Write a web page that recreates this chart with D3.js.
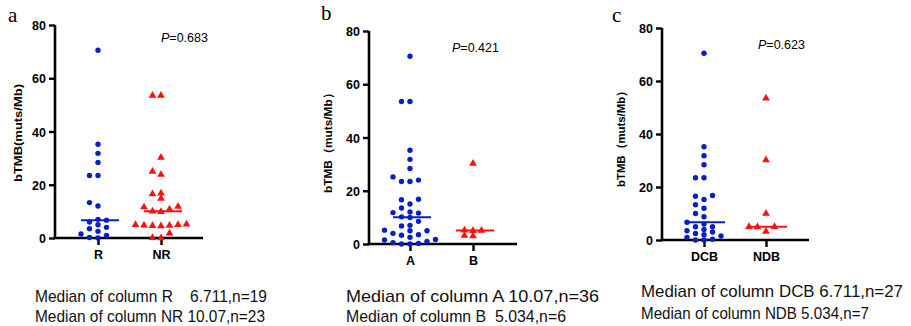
<!DOCTYPE html>
<html>
<head>
<meta charset="utf-8">
<script src="https://cdn.jsdelivr.net/npm/d3@7"></script>
<style>
  body { margin: 0; background: #fff; }
  svg { display: block; }
</style>
</head>
<body>
<div id="chart"></div>
<script>

// ---- data ----
var yTicks = [0, 20, 40, 60, 80];

var rValues  = [70.5, 35.2, 31.8, 28.4, 23.5, 23.5, 13.3, 12.0, 7.0, 6.711, 6.0, 5.0, 4.0, 3.5, 2.5, 1.5, 1.0, 0.2, 0.0];
var nrValues = [53.5, 53.5, 30.2, 25.0, 23.8, 16.8, 16.5, 14.8, 11.8, 11.6, 10.8, 10.07, 9.9, 5.2, 5.0, 5.0, 4.8, 4.7, 4.5, 4.6, 1.8, 0.1, 0.0];

var aValues  = [70.5, 53.5, 53.5, 35.2, 31.8, 28.4, 25.2, 24.0, 23.5, 23.5, 16.8, 16.6, 15.0, 13.5, 12.0, 11.8, 11.6, 10.2,
                9.94, 8.5, 7.0, 6.8, 5.2, 5.0, 5.0, 4.0, 3.5, 3.3, 2.5, 1.7, 1.5, 1.0, 0.5, 0.2, 0.0, 0.0];
var bValues  = [30.2, 5.2, 5.1, 4.968, 3.2, 3.0];

var dcbValues = [70.5, 35.2, 31.8, 28.4, 23.5, 23.5, 16.8, 16.5, 15.3, 13.3, 12.0, 10.0, 8.8, 6.711,
                 6.0, 5.0, 5.0, 4.0, 3.5, 3.0, 2.5, 2.0, 1.5, 1.0, 0.3, 0.0, 0.0];
var ndbValues = [53.5, 30.2, 10.0, 5.034, 5.0, 4.9, 3.2];

var medians = [[6.711, 10.07], [10.07, 5.034], [6.711, 5.034]];

var categories = [["R", "NR"], ["A", "B"], ["DCB", "NDB"]];
var groupValues = [[rValues, nrValues], [aValues, bValues], [dcbValues, ndbValues]];
var pLabels = ["0.683", "0.421", "0.623"];
var letters = ["a", "b", "c"];
var yTitles = ["bTMB(muts/Mb)", "bTMB\uff08muts/Mb\uff09", "bTMB\uff08muts/Mb\uff09"];
var notes = [
  ["Median of column R    6.711,n=19", "Median of column NR 10.07,n=23"],
  ["Median of column A 10.07,n=36", "Median of column B  5.034,n=6"],
  ["Median of column DCB 6.711,n=27", "Median of column NDB 5.034,n=7"]
];

// ---- layout (pixels) ----
var panels = [
  { x0: 55,  x1: 203, yTop: 25, yBot: 238, ticks: [98, 161],  letter: [8, 22],   p: [161, 42],
    ylab: [18, 133, 98], notes: [[35, 302, 232], [35, 322, 230]] },
  { x0: 369, x1: 517, yTop: 31, yBot: 244, ticks: [410, 473], letter: [321, 20],  p: [452, 52],
    ylab: [328, 140, 106], notes: [[346, 302, 253], [346, 322, 220]] },
  { x0: 662, x1: 809, yTop: 28, yBot: 240, ticks: [704, 766], letter: [612, 22], p: [758, 49],
    ylab: [621, 136, 102], notes: [[641, 297, 262], [641, 319, 228]] }
];

var blue = "#0a1ec8";
var red = "#ff1010";
var sans = "'Liberation Sans', Arial, sans-serif";

var svg = d3.select("#chart").append("svg")
  .attr("width", 911)
  .attr("height", 326);

// simple prism-like scatter: spread points with similar y into columns
function swarm(values, y, step, minGap) {
  var placed = [];
  var sorted = values.slice().sort(function(a, b) { return a - b; });
  sorted.forEach(function(v) {
    var py = y(v);
    var order = [0, -1, 1, -2, 2, -3, 3];
    for (var i = 0; i < order.length; i++) {
      var k = order[i];
      var hit = placed.some(function(p) { return p.k === k && Math.abs(p.py - py) < minGap; });
      if (!hit) { placed.push({ v: v, py: py, k: k, dx: k * step }); break; }
    }
  });
  return placed;
}

function styleTickText(sel) {
  sel.attr("fill", "#000")
    .attr("font-family", sans)
    .attr("font-weight", "bold")
    .attr("font-size", "12.5px");
}

panels.forEach(function(pn, i) {
  var g = svg.append("g");

  var y = d3.scaleLinear().domain([0, 80]).range([pn.yBot, pn.yTop]);

  // y axis
  var yAxis = d3.axisLeft(y).tickValues(yTicks).tickSize(6).tickPadding(3);
  var ya = g.append("g").attr("transform", "translate(" + pn.x0 + ",0)").call(yAxis);
  ya.select(".domain").attr("stroke", "#000").attr("stroke-width", 2.6).attr("d", "M0," + pn.yTop + "V" + pn.yBot);
  ya.selectAll(".tick line").attr("stroke", "#000").attr("stroke-width", 2.4);
  ya.selectAll(".tick text").call(styleTickText).attr("dy", "0.36em");

  // x axis
  var x = d3.scaleOrdinal().domain(categories[i]).range(pn.ticks);
  var xAxis = d3.axisBottom(x).tickSize(7).tickPadding(5);
  var xa = g.append("g").attr("transform", "translate(0," + pn.yBot + ")").call(xAxis);
  xa.select(".domain").attr("stroke", "#000").attr("stroke-width", 2.6).attr("d", "M" + (pn.x0 - 1.3) + ",0H" + pn.x1);
  xa.selectAll(".tick line").attr("stroke", "#000").attr("stroke-width", 2.4);
  xa.selectAll(".tick text").call(styleTickText);

  // y title
  g.append("text")
    .attr("transform", "translate(" + pn.ylab[0] + "," + pn.ylab[1] + ") rotate(-90)")
    .attr("text-anchor", "middle")
    .attr("dy", "0.35em")
    .attr("font-family", sans)
    .attr("font-weight", "bold")
    .attr("font-size", "11.5px")
    .attr("textLength", pn.ylab[2])
    .attr("lengthAdjust", "spacingAndGlyphs")
    .text(yTitles[i]);

  // panel letter
  g.append("text")
    .attr("font-family", "'Liberation Serif', 'Times New Roman', serif")
    .attr("font-size", "21px")
    .attr("x", pn.letter[0]).attr("y", pn.letter[1]).text(letters[i]);

  // P value
  var pt = g.append("text")
    .attr("font-family", sans)
    .attr("font-size", "12.5px")
    .attr("x", pn.p[0]).attr("y", pn.p[1]);
  pt.append("tspan").attr("font-style", "italic").text("P");
  pt.append("tspan").text("=" + pLabels[i]);

  // points
  groupValues[i].forEach(function(vals, j) {
    var cx = x(categories[i][j]);
    var pts = swarm(vals, y, 8.5, 5.2);
    var col = j === 0 ? blue : red;
    if (j === 0) {
      g.selectAll(null).data(pts).enter().append("circle")
        .attr("cx", function(d) { return cx + d.dx; })
        .attr("cy", function(d) { return d.py; })
        .attr("r", 2.7)
        .attr("fill", col);
    } else {
      g.selectAll(null).data(pts).enter().append("path")
        .attr("d", d3.symbol().type(d3.symbolTriangle).size(26))
        .attr("transform", function(d) { return "translate(" + (cx + d.dx) + "," + d.py + ")"; })
        .attr("fill", col);
    }
    // median line
    g.append("line")
      .attr("x1", cx - 17).attr("x2", cx + 21)
      .attr("y1", y(medians[i][j])).attr("y2", y(medians[i][j]))
      .attr("stroke", col).attr("stroke-width", 2);
  });

  // summary text under the panel
  notes[i].forEach(function(t, k) {
    g.append("text")
      .attr("font-family", sans)
      .attr("font-size", "17px")
      .attr("fill", "#111")
      .style("white-space", "pre")
      .attr("x", pn.notes[k][0]).attr("y", pn.notes[k][1])
      .attr("textLength", pn.notes[k][2])
      .attr("lengthAdjust", "spacingAndGlyphs")
      .text(t);
  });
});

</script>
</body>
</html>
